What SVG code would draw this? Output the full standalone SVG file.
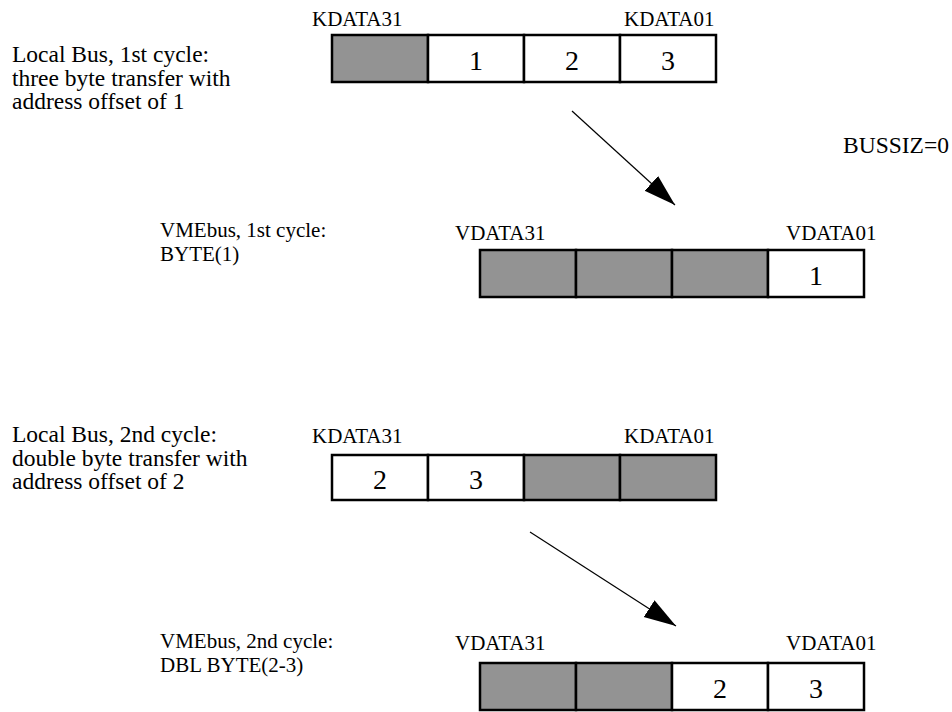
<svg xmlns="http://www.w3.org/2000/svg" width="952" height="712" viewBox="0 0 952 712">
<style>
text{font-family:"Liberation Serif","Times New Roman",serif;fill:#000}
.lbl{font-size:21px}
.big{font-size:23.5px}
.num{font-size:28px;text-anchor:middle}
.cell{stroke:#000;stroke-width:2.5}
.g{fill:#939393}
.w{fill:#fff}
.conn{stroke:#000;stroke-width:1.2;fill:none}
</style>
<defs>
<marker id="ah" markerWidth="34" markerHeight="22" refX="32" refY="10" orient="auto" markerUnits="userSpaceOnUse">
<path d="M0,0 L32,10 L0,20 Z" fill="#000"/>
</marker>
</defs>
<rect width="952" height="712" fill="#fff"/>

<g id="desc1">
<text class="big" x="12" y="62">Local Bus, 1st cycle:</text>
<text class="big" x="12" y="85.5">three byte transfer with</text>
<text class="big" x="12" y="109">address offset of 1</text>
</g>
<g id="busA">
<text class="lbl" x="312" y="26">KDATA31</text>
<text class="lbl" x="624" y="26">KDATA01</text>
<rect class="cell g" x="332" y="35" width="96" height="47"/>
<rect class="cell w" x="428" y="35" width="96" height="47"/>
<rect class="cell w" x="524" y="35" width="96" height="47"/>
<rect class="cell w" x="620" y="35" width="96" height="47"/>
<text class="num" x="476" y="70">1</text>
<text class="num" x="572" y="70">2</text>
<text class="num" x="668" y="70">3</text>
</g>
<text id="bussiz" class="big" x="843" y="153">BUSSIZ=0</text>

<g id="desc2">
<text class="lbl" x="160" y="237">VMEbus, 1st cycle:</text>
<text class="lbl" x="160" y="261">BYTE(1)</text>
</g>
<g id="busB">
<text class="lbl" x="455" y="240">VDATA31</text>
<text class="lbl" x="786" y="240">VDATA01</text>
<rect class="cell g" x="480" y="250" width="96" height="47"/>
<rect class="cell g" x="576" y="250" width="96" height="47"/>
<rect class="cell g" x="672" y="250" width="96" height="47"/>
<rect class="cell w" x="768" y="250" width="96" height="47"/>
<text class="num" x="816" y="285">1</text>
</g>

<g id="desc3">
<text class="big" x="12" y="442">Local Bus, 2nd cycle:</text>
<text class="big" x="12" y="465.5">double byte transfer with</text>
<text class="big" x="12" y="489">address offset of 2</text>
</g>
<g id="busC">
<text class="lbl" x="312" y="443">KDATA31</text>
<text class="lbl" x="624" y="443">KDATA01</text>
<rect class="cell w" x="332" y="455" width="96" height="45"/>
<rect class="cell w" x="428" y="455" width="96" height="45"/>
<rect class="cell g" x="524" y="455" width="96" height="45"/>
<rect class="cell g" x="620" y="455" width="96" height="45"/>
<text class="num" x="380" y="489">2</text>
<text class="num" x="476" y="489">3</text>
</g>

<g id="desc4">
<text class="lbl" x="160" y="648">VMEbus, 2nd cycle:</text>
<text class="lbl" x="160" y="672">DBL BYTE(2-3)</text>
</g>
<g id="busD">
<text class="lbl" x="455" y="650">VDATA31</text>
<text class="lbl" x="786" y="650">VDATA01</text>
<rect class="cell g" x="480" y="663" width="96" height="47"/>
<rect class="cell g" x="576" y="663" width="96" height="47"/>
<rect class="cell w" x="672" y="663" width="96" height="47"/>
<rect class="cell w" x="768" y="663" width="96" height="47"/>
<text class="num" x="720" y="698">2</text>
<text class="num" x="816" y="698">3</text>
</g>

<g id="connectors">
<line class="conn" x1="572" y1="111" x2="675" y2="205" marker-end="url(#ah)"/>
<line class="conn" x1="530" y1="532" x2="676" y2="626" marker-end="url(#ah)"/>
</g>
</svg>
